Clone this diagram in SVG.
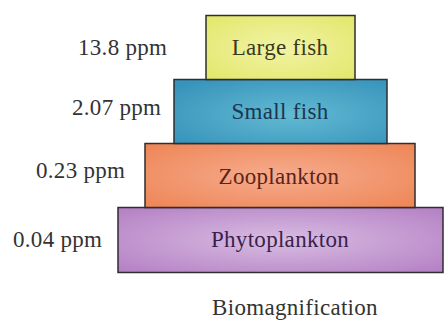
<svg xmlns="http://www.w3.org/2000/svg" width="444" height="320" viewBox="0 0 444 320">
<style>
.box{stroke:#2e2e2e;stroke-width:1.5}
.t{font-family:"Liberation Serif","Times New Roman",serif;font-size:23px;letter-spacing:0.3px}
.lbl{fill:#333}
.c{text-anchor:middle}
</style>
<defs>
<radialGradient id="gy" cx="0.5" cy="0.5" r="0.7"><stop offset="0" stop-color="#f2f3a6"/><stop offset="1" stop-color="#e2e76a"/></radialGradient>
<radialGradient id="gb" cx="0.55" cy="0.55" r="0.7"><stop offset="0" stop-color="#62bad2"/><stop offset="1" stop-color="#3793bb"/></radialGradient>
<radialGradient id="go" cx="0.5" cy="0.5" r="0.7"><stop offset="0" stop-color="#f6ac8e"/><stop offset="1" stop-color="#ee8556"/></radialGradient>
<radialGradient id="gp" cx="0.5" cy="0.5" r="0.7"><stop offset="0" stop-color="#d8bde2"/><stop offset="1" stop-color="#b47fc4"/></radialGradient>
</defs>
<rect width="444" height="320" fill="#fff"/>
<g id="phytoplankton">
<rect class="box" x="118" y="207.5" width="325" height="65" fill="url(#gp)"/>
<text class="t c" x="280" y="247" fill="#3a1f4c">Phytoplankton</text>
</g>
<g id="zooplankton">
<rect class="box" x="145" y="143.5" width="270" height="64" fill="url(#go)"/>
<text class="t c" x="279" y="184" fill="#5c2418">Zooplankton</text>
</g>
<g id="small-fish">
<rect class="box" x="174" y="79.5" width="213" height="64" fill="url(#gb)"/>
<text class="t c" x="280" y="119" fill="#1c3550">Small fish</text>
</g>
<g id="large-fish">
<rect class="box" x="206" y="15.5" width="149" height="64" fill="url(#gy)"/>
<text class="t c" x="280" y="55" fill="#3a3a1c">Large fish</text>
</g>
<g id="labels">
<text class="t lbl" x="78" y="55">13.8 ppm</text>
<text class="t lbl" x="72" y="115">2.07 ppm</text>
<text class="t lbl" x="36" y="178">0.23 ppm</text>
<text class="t lbl" x="13" y="247">0.04 ppm</text>
<text class="t lbl c" x="295" y="315">Biomagnification</text>
</g>
</svg>
